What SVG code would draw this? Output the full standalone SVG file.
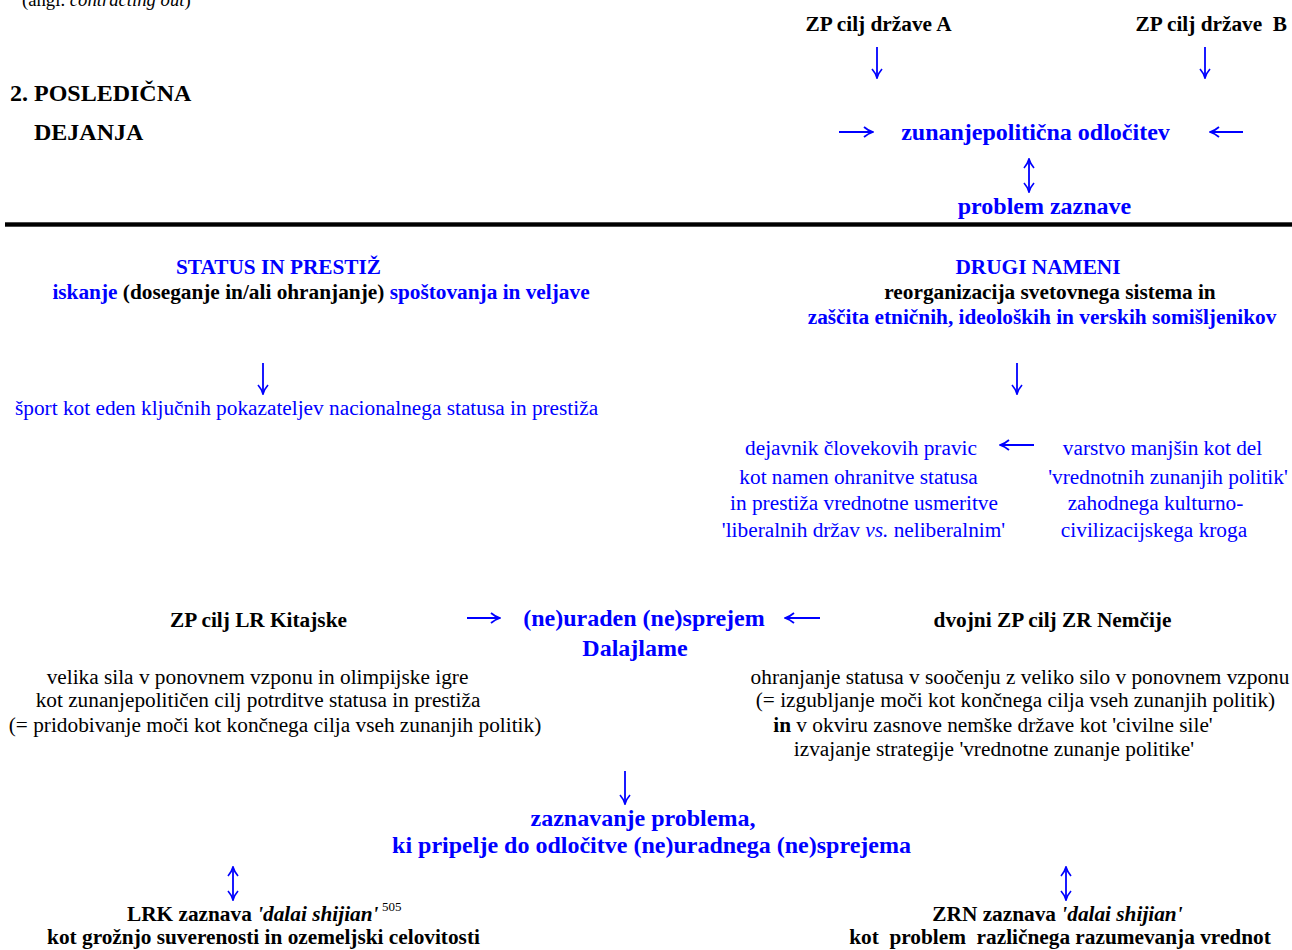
<svg xmlns="http://www.w3.org/2000/svg" width="1292" height="950" viewBox="0 0 1292 950">
<style>
text{font-family:"Liberation Serif","Times New Roman",serif;}
.b{font-weight:bold;}
.blue{fill:#0000ff;}
.blk{fill:#000;}
.s24{font-size:24px;}
.s21{font-size:21.3px;}
.mid{text-anchor:middle;}
.it{font-style:italic;}
.arr{fill:none;stroke:#0000ff;stroke-width:1.8;}
</style>
<defs>
<marker id="ah" viewBox="0 0 12 12" refX="11" refY="6" markerWidth="12" markerHeight="12" markerUnits="userSpaceOnUse" orient="auto-start-reverse">
<path d="M2,1 Q6,4.6 11,6 Q6,7.4 2,11" fill="none" stroke="#0000ff" stroke-width="1.7"/>
</marker>
</defs>
<rect width="1292" height="950" fill="#fff"/>

<g id="note-top">
<text x="22" y="6" class="blk" style="font-size:18.7px">(angl. <tspan class="it">contracting out</tspan>)</text>
</g>
<g id="heading">
<text x="10" y="101" class="b blk s24">2. POSLEDIČNA</text>
<text x="34" y="140" class="b blk s24">DEJANJA</text>
</g>
<g id="goal-a"><text x="878.5" y="31" class="b blk s21 mid">ZP cilj države A</text></g>
<g id="goal-b"><text x="1287" y="31" class="b blk s21" text-anchor="end" xml:space="preserve">ZP cilj države  B</text></g>
<g id="decision"><text x="1035.5" y="140" class="b blue s24 mid">zunanjepolitična odločitev</text></g>
<g id="perception-problem"><text x="1044.5" y="214" class="b blue s24 mid">problem zaznave</text></g>

<rect id="rule" x="5" y="222.3" width="1287" height="4.4" fill="#000"/>

<g id="status-prestige">
<text x="278.5" y="274" class="b blue s21 mid">STATUS IN PRESTIŽ</text>
<text x="321" y="299" class="b s21 mid"><tspan class="blue">iskanje</tspan><tspan class="blk"> (doseganje in/ali ohranjanje) </tspan><tspan class="blue">spoštovanja in veljave</tspan></text>
</g>
<g id="sport"><text x="15" y="415" class="blue s21">šport kot eden ključnih pokazateljev nacionalnega statusa in prestiža</text></g>

<g id="other-purposes">
<text x="1038" y="274" class="b blue s21 mid">DRUGI NAMENI</text>
<text x="1050" y="299" class="b blk s21 mid">reorganizacija svetovnega sistema in</text>
<text x="1042" y="324" class="b blue s21 mid">zaščita etničnih, ideoloških in verskih somišljenikov</text>
</g>

<g id="human-rights" class="blue s21 mid">
<text x="861" y="455">dejavnik človekovih pravic</text>
<text x="858.5" y="484">kot namen ohranitve statusa</text>
<text x="864" y="510">in prestiža vrednotne usmeritve</text>
<text x="863.5" y="537">'liberalnih držav <tspan class="it">vs.</tspan> neliberalnim'</text>
</g>
<g id="minorities" class="blue s21 mid">
<text x="1162.5" y="455">varstvo manjšin kot del</text>
<text x="1168" y="484">'vrednotnih zunanjih politik'</text>
<text x="1155.5" y="510">zahodnega kulturno-</text>
<text x="1154" y="537">civilizacijskega kroga</text>
</g>

<g id="china-goal">
<text x="258.5" y="627" class="b blk s21 mid">ZP cilj LR Kitajske</text>
<text x="257.5" y="684" class="blk s21 mid">velika sila v ponovnem vzponu in olimpijske igre</text>
<text x="258" y="707" class="blk s21 mid">kot zunanjepolitičen cilj potrditve statusa in prestiža</text>
<text x="275" y="732" class="blk s21 mid">(= pridobivanje moči kot končnega cilja vseh zunanjih politik)</text>
</g>
<g id="reception">
<text x="644" y="626" class="b blue s24 mid">(ne)uraden (ne)sprejem</text>
<text x="635" y="656" class="b blue s24 mid">Dalajlame</text>
</g>
<g id="germany-goal">
<text x="1052.5" y="627" class="b blk s21 mid">dvojni ZP cilj ZR Nemčije</text>
<text x="1020" y="684" class="blk s21 mid">ohranjanje statusa v soočenju z veliko silo v ponovnem vzponu</text>
<text x="1015.5" y="707" class="blk s21 mid">(= izgubljanje moči kot končnega cilja vseh zunanjih politik)</text>
<text x="993" y="732" class="blk s21 mid"><tspan class="b">in</tspan> v okviru zasnove nemške države kot 'civilne sile'</text>
<text x="994" y="756" class="blk s21 mid">izvajanje strategije 'vrednotne zunanje politike'</text>
</g>
<g id="problem-perception">
<text x="643" y="826" class="b blue s24 mid">zaznavanje problema,</text>
<text x="651.5" y="853" class="b blue s24 mid">ki pripelje do odločitve (ne)uradnega (ne)sprejema</text>
</g>
<g id="prc-perception">
<text x="127" y="921" class="b blk s21">LRK zaznava <tspan class="it">'dalai shijian'</tspan></text>
<text x="382" y="911" class="blk" style="font-size:13px">505</text>
<text x="263.5" y="944" class="b blk s21 mid">kot grožnjo suverenosti in ozemeljski celovitosti</text>
</g>
<g id="frg-perception">
<text x="1057.5" y="921" class="b blk s21 mid">ZRN zaznava <tspan class="it">'dalai shijian'</tspan></text>
<text x="1060" y="944" class="b blk s21 mid" xml:space="preserve">kot  problem  različnega razumevanja vrednot</text>
</g>

<g id="connectors" class="arr">
<path d="M877,47 V78" marker-end="url(#ah)"/>
<path d="M1205,47 V78" marker-end="url(#ah)"/>
<path d="M839,132 H873" marker-end="url(#ah)"/>
<path d="M1243,132 H1210" marker-end="url(#ah)"/>
<path d="M1029,159 V192" marker-start="url(#ah)" marker-end="url(#ah)"/>
<path d="M263,363 V394" marker-end="url(#ah)"/>
<path d="M1017,363 V394" marker-end="url(#ah)"/>
<path d="M1034,445 H1000" marker-end="url(#ah)"/>
<path d="M467,618 H500" marker-end="url(#ah)"/>
<path d="M820,618 H785" marker-end="url(#ah)"/>
<path d="M625,771 V804" marker-end="url(#ah)"/>
<path d="M233,867 V900" marker-start="url(#ah)" marker-end="url(#ah)"/>
<path d="M1066,867 V900" marker-start="url(#ah)" marker-end="url(#ah)"/>
</g>
</svg>
